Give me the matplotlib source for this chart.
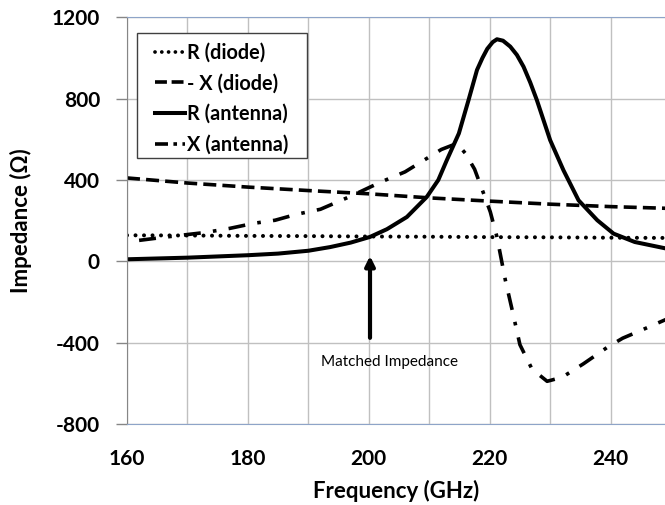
import matplotlib
matplotlib.use("Agg")
import matplotlib.pyplot as plt
from matplotlib.patches import Rectangle
from matplotlib.lines import Line2D
import numpy as np

plt.rcParams['font.family'] = ['Lato', 'DejaVu Sans']
plt.rcParams['axes.unicode_minus'] = False

# ---- data ----
freq_diode = [160, 170, 180, 190, 200, 210, 220, 230, 240, 250]
r_diode = [128, 127, 125, 124, 122, 121, 119, 118, 116, 115]
x_diode = [410, 385, 365, 348, 332, 312, 296, 281, 269, 260]

freq_r_ant = [160, 170, 180, 185, 190, 193.6, 197, 200.2, 203, 206.3, 209.6, 211.5,
              212.9, 214.9, 216.5, 217.9, 218.8, 219.6, 220.5, 221.2, 222.2, 223.4,
              224.5, 225.6, 226.7, 227.8, 230, 232.2, 234.7, 237.8, 240.5, 244, 250]
r_ant = [10, 18, 30, 38, 52, 70, 92, 120, 158, 218, 317, 400,
         497, 629, 793, 941, 1000, 1045, 1078, 1092, 1085, 1056,
         1015, 957, 880, 793, 596, 448, 300, 202, 136, 95, 58]

freq_x_ant = [162, 166, 173, 177, 181, 184.5, 188, 192, 197, 202, 206, 209, 212,
              214.6, 216, 217.5, 219, 220.1, 221.2, 222.6, 223.8, 225, 227, 229.5,
              232, 235.5, 239.5, 242, 245, 250]
x_ant = [103, 118, 142, 162, 187, 202, 231, 256, 320, 390, 440, 495, 550,
         580, 530, 453, 333, 243, 120, -94, -250, -410, -530, -590,
         -570, -504, -422, -378, -340, -275]

labels = ['R (diode)', '- X (diode)', 'R (antenna)', 'X (antenna)']
yticks = [-800, -400, 0, 400, 800, 1200]
xticks = [160, 180, 200, 220, 240]

# ---- figure ----
fig = plt.figure(figsize=(6.65, 5.05), dpi=100)
ax = fig.add_axes([127 / 665, 1 - 424 / 505, 1 - 127 / 665, (424 - 17.3) / 505])

ax.plot(freq_diode, r_diode, color='black', lw=2.9, linestyle=(0, (0.01, 2.1)),
        dash_capstyle='round')
ax.plot(freq_diode, x_diode, color='black', lw=2.6, linestyle=(0, (3.6, 1.7)))
ax.plot(freq_r_ant, r_ant, color='black', lw=2.9)
ax.plot(freq_x_ant, x_ant, color='black', lw=2.6, linestyle=(0, (4.7, 3.4, 1, 3.4)))

ax.set_xlim(160, 249)
ax.set_ylim(-800, 1200)
ax.set_xticks(xticks)
ax.set_yticks(yticks)
ax.set_xticks(np.arange(170, 250, 20), minor=True)
ax.grid(True, which='both', color='#c0c0c0', lw=1)
ax.set_axisbelow(True)

ax.tick_params(axis='x', which='both', length=0, pad=18, labelsize=15)
ax.tick_params(axis='y', length=8, width=1, color='#868686', pad=11.5, labelsize=15)
for lab in ax.get_xticklabels() + ax.get_yticklabels():
    lab.set_fontweight('bold')

ax.spines['left'].set_color('#868686')
ax.spines['bottom'].set_color('#8ea4c8')
ax.spines['top'].set_color('#8ea4c8')
ax.spines['right'].set_visible(False)

ax.set_xlabel('Frequency (GHz)', fontsize=16, fontweight='bold', labelpad=8)
ax.set_ylabel('Impedance (Ω)', fontsize=16, fontweight='bold', labelpad=14)

# matched impedance marker
ax.annotate('', xy=(200.2, 40), xytext=(200.2, -390),
            arrowprops=dict(arrowstyle='-|>', color='black', lw=3, mutation_scale=14))
ax.text(203.4, -497, 'Matched Impedance', fontsize=11, ha='center', va='center')

# legend: short proxy patterns so each 30px handle reads like the Excel key
handles = [
    Line2D([], [], color='black', lw=2.7, linestyle=(0, (0.01, 1.8)), dash_capstyle='round'),
    Line2D([], [], color='black', lw=2.6, linestyle=(0, (3.3, 1.3))),
    Line2D([], [], color='black', lw=2.9),
    Line2D([], [], color='black', lw=2.6, linestyle=(0, (3.6, 1.5, 1, 1.5))),
]
ax.add_patch(Rectangle((0.0186, 0.654), 0.316, 0.3074, transform=ax.transAxes,
                       facecolor='white', edgecolor='#404040', lw=1, zorder=4))
leg = ax.legend(handles, labels, loc='upper left', bbox_to_anchor=(0.052, 0.937),
                borderaxespad=0, prop={'size': 14.3, 'weight': 'bold'},
                handlelength=1.5, handletextpad=0.1, labelspacing=0.53,
                frameon=False, borderpad=0)
leg.set_zorder(5)

fig.savefig('out.png', dpi=100)
